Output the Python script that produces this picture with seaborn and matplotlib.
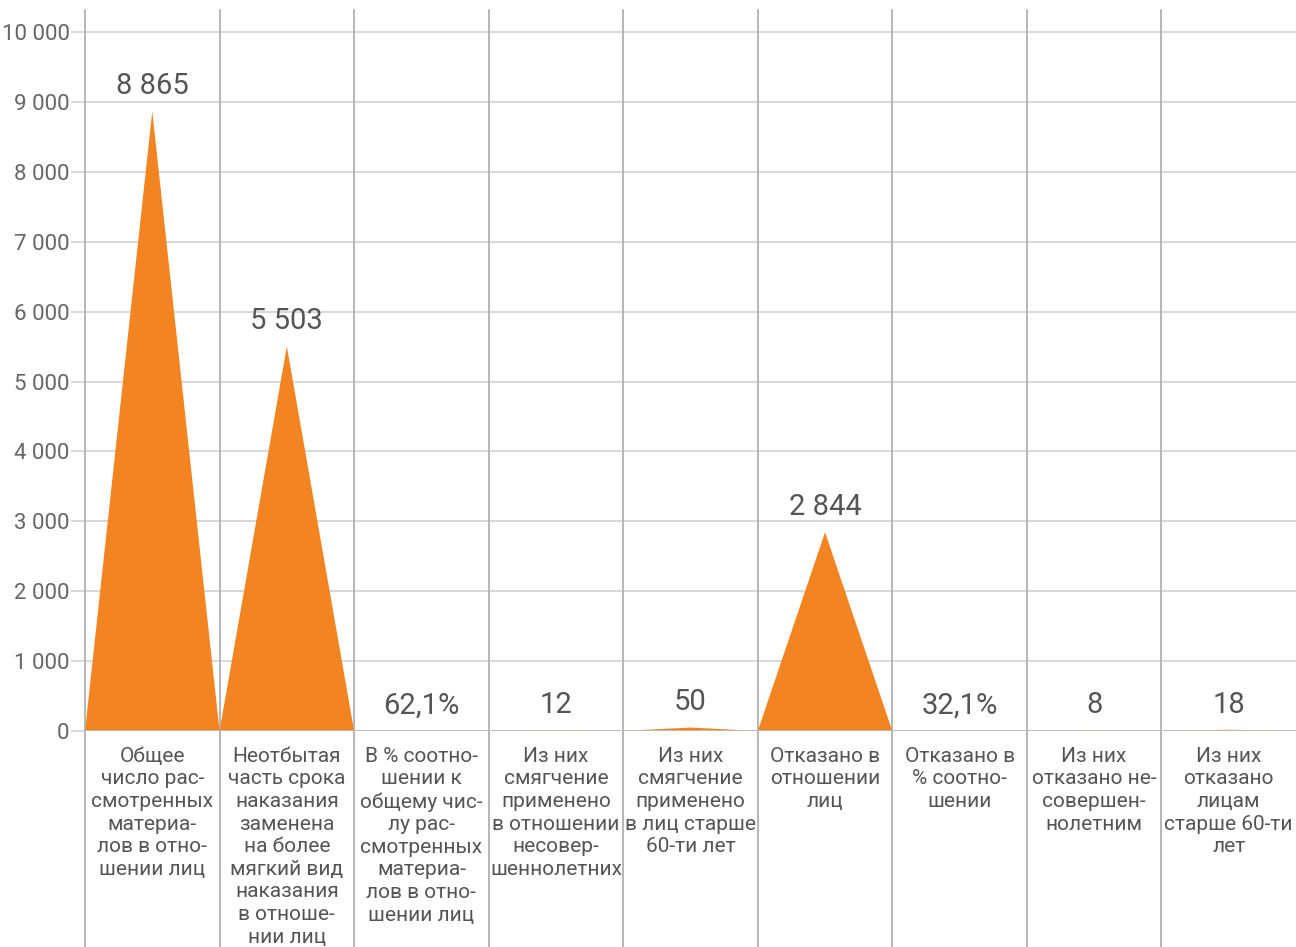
import matplotlib
matplotlib.use("Agg")
import matplotlib.pyplot as plt
import seaborn as sns
import pandas as pd

categories = [
    "Общее\nчисло рас-\nсмотренных\nматериа-\nлов в отно-\nшении лиц",
    "Неотбытая\nчасть срока\nнаказания\nзаменена\nна более\nмягкий вид\nнаказания\nв отноше-\nнии лиц",
    "В % соотно-\nшении к\nобщему чис-\nлу рас-\nсмотренных\nматериа-\nлов в отно-\nшении лиц",
    "Из них\nсмягчение\nприменено\nв отношении\nнесовер-\nшеннолетних",
    "Из них\nсмягчение\nприменено\nв лиц старше\n60-ти лет",
    "Отказано в\nотношении\nлиц",
    "Отказано в\n% соотно-\nшении",
    "Из них\nотказано не-\nсовершен-\nнолетним",
    "Из них\nотказано\nлицам\nстарше 60-ти\nлет",
]
# counts of persons; percentage shares carry no peak
counts = [8865, 5503, 0, 12, 50, 2844, 0, 8, 18]
value_labels = ["8 865", "5 503", "62,1%", "12", "50", "2 844", "32,1%", "8", "18"]
y_ticks = [0, 1000, 2000, 3000, 4000, 5000, 6000, 7000, 8000, 9000, 10000]

ORANGE = "#F28421"
TEXT = "#555555"

sns.set_theme(style="white")
plt.rcParams["font.family"] = ["Roboto", "DejaVu Sans"]

fig = plt.figure(figsize=(12.96, 9.47), dpi=100)
ax = fig.add_axes([85 / 1296, (947 - 731) / 947, (1296 - 85) / 1296, (731 - 10) / 947])

df = pd.DataFrame({"pos": range(len(categories)), "count": counts, "label": value_labels})

# one triangle per category, base spanning its column, apex at the centre
for _, row in df.iterrows():
    left, mid, right = row["pos"], row["pos"] + 0.5, row["pos"] + 1
    if row["count"] > 0:
        ax.fill([left, mid, right], [0, row["count"], 0], color=ORANGE, lw=0, zorder=3)
    ax.annotate(row["label"], (mid, row["count"]), xytext=(0, 8), textcoords="offset points",
                ha="center", va="bottom", fontsize=21, color=TEXT, fontweight="normal", zorder=4)
    ax.text(mid, -0.022, categories[row["pos"]], transform=ax.get_xaxis_transform(),
            ha="center", va="top", fontsize=15, color=TEXT, linespacing=1.24,
            fontweight="normal", clip_on=False)

sns.lineplot(x=[0, len(categories)], y=[0, 0], ax=ax, color="#BDBDBD", lw=2, zorder=5)

# column separators run from the top down through the label area
for b in range(0, len(categories)):
    ax.plot([b, b], [-0.3, 1.0], transform=ax.get_xaxis_transform(), color="#B5B5B5",
            lw=1.4, clip_on=False, zorder=2)

ax.set_xlim(0, len(categories))
ax.set_ylim(0, 10315)
ax.set_yticks(y_ticks)
ax.set_yticklabels([f"{v:,}".replace(",", " ") for v in y_ticks], fontsize=16,
                   color="#666666", fontweight="normal")
ax.set_xticks([])
ax.yaxis.grid(True, color="#D9D9D9", lw=1.5, zorder=0)
ax.tick_params(axis="y", length=10, width=1.5, color="#D9D9D9", pad=1, left=True)
for s in ax.spines.values():
    s.set_visible(False)

fig.savefig("out.png", dpi=100)
